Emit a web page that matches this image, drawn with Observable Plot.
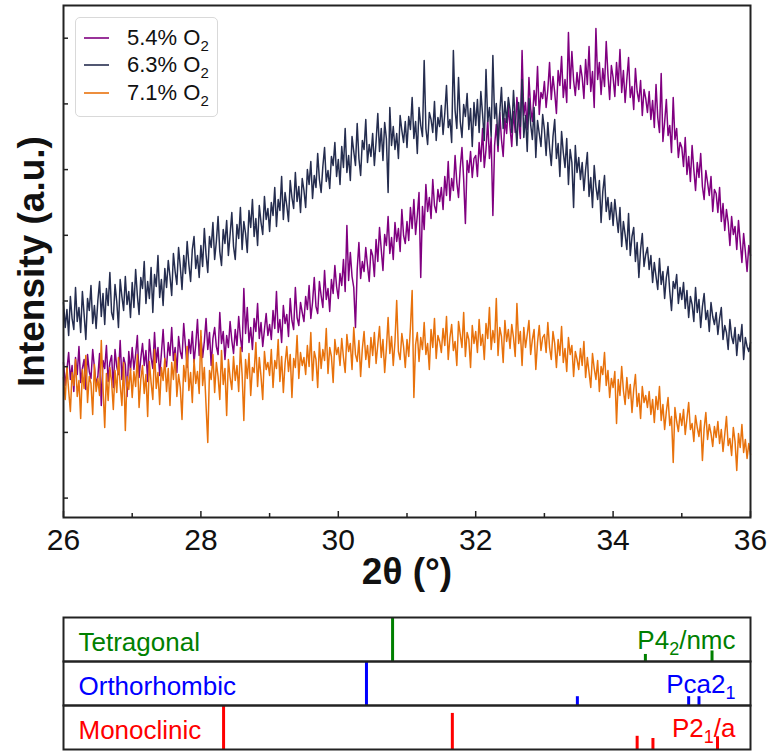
<!DOCTYPE html>
<html><head><meta charset="utf-8">
<script src="https://cdn.jsdelivr.net/npm/d3@7"></script>
<script src="https://cdn.jsdelivr.net/npm/@observablehq/plot@0.6"></script>
<style>
body{margin:0;background:#fff;font-family:"Liberation Sans",Arial,sans-serif;}
#wrap{position:relative;width:769px;height:753px;overflow:hidden;}
#wrap svg{display:block;}
#legend{position:absolute;left:75px;top:17px;width:141px;height:92px;border:1px solid #d9d9d9;border-radius:5px;background:rgba(255,255,255,0.85);padding-top:6px;}
.row{display:flex;align-items:center;height:27.5px;font-size:22px;color:#111;white-space:nowrap;}
.sw{display:inline-block;width:25px;height:2px;margin-left:8px;margin-right:18px;opacity:0.8;}
.row sub{font-size:15px;vertical-align:-6px;line-height:0;}
</style></head><body><div id="wrap"></div>
<script>
// ---------- data ----------
const seriesNames = ["5.4% O₂", "6.3% O₂", "7.1% O₂"];
const seriesColors = ["#800080", "#252d4f", "#e8720c"];
const twoThetaStart = 26, twoThetaStep = 0.025;

// intensity (a.u.), one value per 0.025° from 26° to 36°
const int54 = [
155,132,148,165,138,152,126,160,143,171,135,149,158,128,163,146,139,168,150,133,
141,164,112,157,149,172,136,155,162,130,168,151,143,177,138,160,153,121,166,147,
170,148,163,182,140,159,174,152,167,136,178,160,149,185,155,170,142,164,188,158,
151,175,162,190,157,170,145,181,166,159,194,172,150,178,164,186,155,173,198,162,
181,160,176,199,168,185,152,179,190,171,163,205,174,186,158,182,170,196,177,164,
188,172,201,180,166,229,184,210,175,190,168,199,186,214,179,195,171,188,204,182,
193,178,207,189,226,185,198,175,212,194,203,181,219,197,188,230,200,192,215,205,
196,221,208,232,199,215,240,211,204,236,222,210,247,218,229,206,238,224,252,231,
219,244,232,258,226,292,237,265,241,230,190,248,275,239,256,246,270,252,236,268,
262,241,278,256,290,268,247,283,272,301,264,280,258,295,276,289,266,308,282,274,
296,277,310,289,318,283,302,325,240,311,288,333,306,320,299,338,312,305,328,316,
330,308,341,322,356,317,339,327,362,335,320,350,370,338,294,357,345,366,340,359,
362,341,375,356,389,350,368,398,359,380,302,372,393,366,405,378,361,399,384,412,
390,371,406,385,420,398,379,467,402,415,388,440,409,396,427,412,451,403,425,419,
436,410,428,455,418,441,425,404,447,432,461,420,438,415,485,429,466,437,422,445,
428,452,440,419,458,433,471,426,446,410,489,438,455,423,449,431,476,443,418,452,
440,421,455,432,468,425,447,415,438,460,420,431,408,449,426,416,437,402,428,419,
405,426,398,417,390,433,400,385,444,376,395,418,382,392,365,420,378,389,360,375,
370,351,380,343,361,336,372,348,327,355,340,364,331,318,347,335,322,341,306,328,
324,305,330,296,314,287,308,295,272,301,283,291,268,297,276,255,284,266,246,272,
262];
const int63 = [
215,190,208,182,221,199,188,230,196,210,185,226,203,178,219,207,232,194,212,189,
217,236,201,224,193,229,212,245,205,198,233,216,190,238,221,207,241,213,226,200,
235,210,248,222,203,240,229,256,214,236,219,250,205,243,231,262,220,238,212,249,
230,257,241,222,264,246,233,270,251,228,262,244,276,253,236,268,281,249,262,240,
272,251,289,263,245,281,270,295,258,276,301,266,252,288,274,297,262,283,305,271,
258,293,279,310,268,296,284,265,307,290,318,281,299,272,312,295,283,321,298,309,
286,315,302,330,291,318,307,341,298,325,312,296,337,320,309,345,316,331,305,339,
327,310,348,333,356,319,342,330,364,338,325,351,370,336,347,329,361,352,375,341,
358,333,371,350,389,345,362,337,381,366,352,394,359,342,377,368,398,355,373,361,
384,352,376,404,366,389,357,395,379,325,410,372,391,368,384,359,402,387,375,396,
370,401,388,420,379,396,364,410,392,381,457,389,373,405,398,385,416,377,400,391,
412,383,404,432,390,398,375,467,407,389,440,396,380,413,401,424,388,409,371,415,
392,418,385,426,403,377,448,396,410,381,462,399,414,372,405,430,389,416,395,420,
408,385,427,398,372,415,391,438,380,402,366,419,393,378,410,360,397,384,371,403,
388,362,395,370,352,381,398,359,374,341,386,365,350,379,333,368,355,310,372,345,
360,338,355,327,348,365,321,340,310,352,331,318,337,295,326,342,306,320,298,315,
292,318,301,285,310,271,296,283,268,304,262,281,290,256,275,240,268,284,251,263,
270,248,262,235,255,241,228,259,233,246,219,240,251,226,207,236,229,243,214,230,
218,235,209,227,200,221,213,196,230,205,218,190,211,224,198,207,186,215,201,193,
205,183,199,210,178,192,185,168,198,181,174,190,162,183,176,193,158,180,171,166,
175];
const int71 = [
140,118,151,127,106,145,132,158,121,137,99,148,129,162,115,141,134,103,153,126,
139,122,177,130,90,144,117,150,136,108,147,125,160,133,112,155,87,141,128,149,
120,146,131,163,110,138,152,124,143,101,156,135,118,168,129,145,113,150,137,159,
126,149,112,155,138,164,121,143,130,98,152,136,171,127,145,115,158,134,146,124,
187,132,150,112,75,147,138,163,125,155,141,118,167,133,149,102,158,140,128,161,
137,152,126,170,143,97,158,139,164,122,150,145,175,131,160,141,118,166,148,155,
142,168,130,157,149,178,136,161,125,154,171,146,163,120,159,150,182,139,165,152,
160,143,172,151,185,137,166,158,130,175,149,168,157,189,144,170,161,135,178,163,
170,152,179,160,145,183,166,174,148,190,163,156,177,141,169,186,158,172,150,180,
162,185,154,173,191,160,178,145,169,200,164,181,152,176,217,166,158,184,171,150,
178,161,190,227,120,173,185,156,180,168,195,163,174,148,188,170,199,159,182,176,
165,189,172,201,158,180,193,167,176,152,196,183,170,205,161,185,178,150,192,174,
186,165,198,172,183,158,194,179,210,168,187,175,219,162,190,181,155,197,176,188,
169,193,180,161,214,174,186,152,190,170,183,197,163,178,188,148,175,192,167,180,
183,165,195,170,158,186,174,150,178,162,191,155,169,146,180,163,172,141,166,158,
148,169,152,176,140,160,145,130,164,149,138,157,126,151,143,165,132,147,120,139,
130,146,94,138,122,151,127,113,140,119,133,105,128,143,111,124,99,131,115,122,
110,126,103,118,95,121,108,131,97,113,88,106,120,92,101,55,110,96,86,104,
92,108,83,99,115,88,94,76,102,90,81,97,57,89,105,78,93,84,71,91,
80,96,74,88,66,83,101,72,79,62,90,76,47,84,70,93,65,78,59,74,
63];

const xTicks = [26, 28, 30, 32, 34, 36];
const xMinorTicks = [27, 29, 31, 33, 35];
const yTicks = [19.4, 85.1, 150.8, 216.5, 282.2, 347.9, 413.6, 479.3];
const xLabel = "2θ (°)";
const yLabel = "Intensity (a.u.)";

// reference patterns
const phases = ["Tetragonal", "Orthorhombic", "Monoclinic"];
const phaseColors = ["#008000", "#0000ff", "#ff0000"];
const spaceGroups = ["P4₂/nmc", "Pca2₁", "P2₁/a"];
const refPhase  = ["Tetragonal","Tetragonal","Tetragonal","Orthorhombic","Orthorhombic","Orthorhombic","Orthorhombic","Monoclinic","Monoclinic","Monoclinic","Monoclinic","Monoclinic"];
const refPos    = [30.79, 34.47, 35.44, 30.41, 33.48, 35.10, 35.25, 28.33, 31.66, 34.35, 34.58, 35.52];
const refHeight = [1.0, 0.16, 0.24, 1.0, 0.2, 0.2, 0.2, 1.0, 0.82, 0.3, 0.25, 0.29];

// ---------- build ----------
const rows = [];
[int54, int63, int71].forEach((arr, k) => arr.forEach((v, i) =>
  rows.push({series: seriesNames[k], x: twoThetaStart + i * twoThetaStep, y: v})));

const font = "Liberation Sans, Arial, sans-serif";

const main = Plot.plot({
  width: 769, height: 600,
  marginLeft: 63, marginRight: 19, marginTop: 5, marginBottom: 83,
  style: {fontFamily: font, background: "white", color: "#111"},
  x: {domain: [26, 36]},
  y: {domain: [0, 512]},
  color: {domain: seriesNames, range: seriesColors},
  marks: [
    Plot.lineY(rows, {x: "x", y: "y", z: "series", stroke: "series", strokeWidth: 1.5}),
    Plot.frame({stroke: "#222", strokeWidth: 2}),
    Plot.axisX({ticks: xTicks, tickSize: -6, tickFormat: () => "", label: null, stroke: "#222", strokeWidth: 1.5}),
    Plot.axisX({ticks: xMinorTicks, tickSize: -4, tickFormat: () => "", label: null, stroke: "#222", strokeWidth: 1.5}),
    Plot.axisX({ticks: xTicks, tickSize: 0, tickPadding: 11, fontSize: 30, label: null, fill: "#111"}),
    Plot.axisY({ticks: yTicks, tickSize: -5, tickFormat: () => "", label: null, stroke: "#222", strokeWidth: 1.5}),
    Plot.text([yLabel], {text: d => d, frameAnchor: "left", rotate: -90, dx: -31, textAnchor: "middle", lineAnchor: "middle", fontSize: 37, fontWeight: "bold", fill: "#111"}),
    Plot.text([xLabel], {text: d => d, frameAnchor: "bottom", dy: 55, textAnchor: "middle", lineAnchor: "middle", fontSize: 37, fontWeight: "bold", fill: "#111"})
  ]
});

const refLines = refPos.map((p, i) => ({phase: refPhase[i], pos: p, h: refHeight[i], color: phaseColors[phases.indexOf(refPhase[i])]}));
const phaseLabels = phases.map((p, i) => ({phase: p, name: p, group: spaceGroups[i], color: phaseColors[i]}));

const bottom = Plot.plot({
  width: 769, height: 153,
  marginLeft: 63, marginRight: 19, marginTop: 17, marginBottom: 4,
  style: {fontFamily: font, background: "white"},
  x: {domain: [26, 36], axis: null},
  y: {domain: [0, 1], axis: null},
  fy: {domain: phases, padding: 0, axis: null},
  color: {type: "identity"},
  marks: [
    Plot.ruleX(refLines, {x: "pos", y1: 0, y2: "h", fy: "phase", stroke: "color", strokeWidth: 3}),
    Plot.frame({stroke: "#222", strokeWidth: 2}),
    Plot.text(phaseLabels, {fy: "phase", frameAnchor: "bottom-left", text: "name", fill: "color", dx: 15, dy: -11, fontSize: 26, lineAnchor: "bottom", textAnchor: "start"}),
    Plot.text(phaseLabels, {fy: "phase", frameAnchor: "bottom-right", text: "group", fill: "color", dx: -15, dy: -13, fontSize: 26, lineAnchor: "bottom", textAnchor: "end"})
  ]
});

function subscriptify(root, shift, size) {
  root.querySelectorAll("text").forEach(t => {
    const s = t.textContent;
    if (!/[\u2080-\u2089]/.test(s)) return;
    t.textContent = "";
    const parts = s.match(/[\u2080-\u2089]+|[^\u2080-\u2089]+/g);
    let lowered = false;
    for (const p of parts) {
      const ts = document.createElementNS("http://www.w3.org/2000/svg", "tspan");
      if (/[\u2080-\u2089]/.test(p)) {
        ts.textContent = [...p].map(c => String.fromCharCode(c.charCodeAt(0) - 0x2080 + 48)).join("");
        ts.setAttribute("font-size", size);
        ts.setAttribute("dy", shift);
        lowered = true;
      } else {
        ts.textContent = p;
        if (lowered) { ts.setAttribute("dy", -shift); lowered = false; }
      }
      t.appendChild(ts);
    }
  });
}
subscriptify(bottom, 6, 18);

const wrap = document.getElementById("wrap");
wrap.appendChild(main);
wrap.appendChild(bottom);

// legend
const legend = document.createElement("div");
legend.id = "legend";
seriesNames.forEach((name, i) => {
  const row = document.createElement("div");
  row.className = "row";
  const sw = document.createElement("span");
  sw.className = "sw";
  sw.style.backgroundColor = seriesColors[i];
  const label = document.createElement("span");
  label.innerHTML = name.replace(/[\u2080-\u2089]/g, c => "<sub>" + String.fromCharCode(c.charCodeAt(0) - 0x2080 + 48) + "</sub>");
  row.appendChild(sw);
  row.appendChild(label);
  legend.appendChild(row);
});
wrap.appendChild(legend);
</script></body></html>
